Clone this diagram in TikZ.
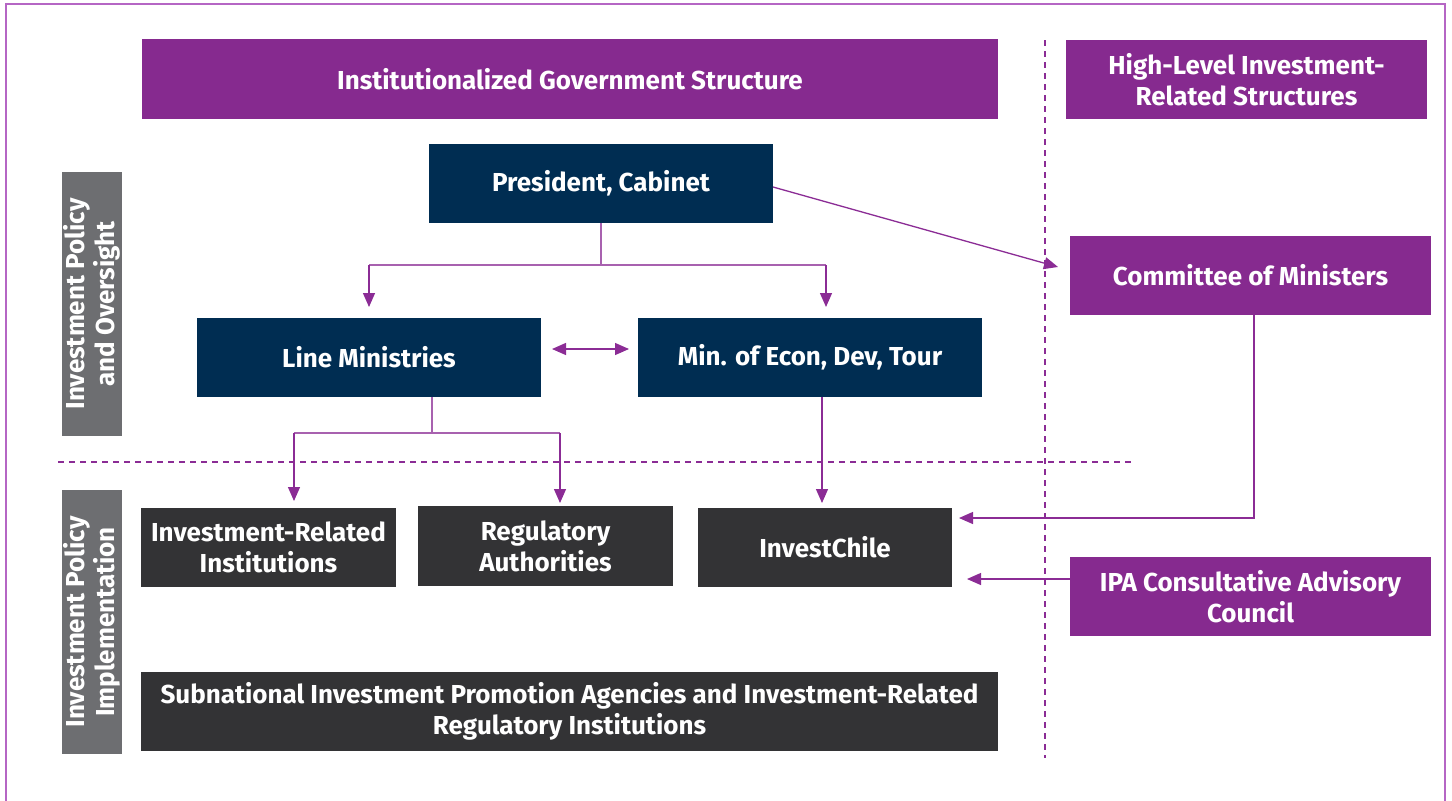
\documentclass[tikz,border=0pt]{standalone}
\usepackage{fontspec}
\setmainfont{Fira Sans}
\usetikzlibrary{arrows.meta}
\definecolor{purp}{HTML}{862A8F}
\definecolor{navy}{HTML}{002D52}
\definecolor{dgray}{HTML}{333335}
\definecolor{lgray}{HTML}{6D6E71}
\definecolor{frame}{HTML}{B566C4}
\definecolor{arrowc}{HTML}{8B2C95}
\tikzset{
  box/.style={inner sep=0pt, text=white, font=\fontsize{26}{31}\selectfont\bfseries, align=center},
  pbox/.style={box, fill=purp},
  nbox/.style={box, fill=navy},
  gbox/.style={box, fill=dgray},
  side/.style={box, fill=lgray},
  sidetext/.style={rotate=90, text=white, font=\fontsize{26}{30}\selectfont\bfseries, align=center},
  tip/.style={Triangle[length=14pt,width=12pt]},
  conn/.style={draw=arrowc, line width=1.3pt, -{Triangle[length=14pt,width=12pt]}},
  dconn/.style={draw=arrowc, line width=1.3pt, {Triangle[length=14pt,width=12pt]}-{Triangle[length=14pt,width=12pt]}},
  plain/.style={draw=arrowc!75, line width=1.3pt},
  sep/.style={draw=arrowc, line width=1.2pt, dash pattern=on 6pt off 5pt}
}
\newcommand{\bx}[6]{\node[#1, minimum width=#4pt-#2pt, minimum height=#5pt-#3pt] (#6) at ({(#2+#4)/2*1pt},{-(#3+#5)/2*1pt})}
\begin{document}
\begin{tikzpicture}[x=1pt,y=-1pt]
\useasboundingbox (0,0) rectangle (1452,801);
\fill[white] (0,0) rectangle (1452,801);
\draw[frame, line width=1.2pt] (6,801) -- (6,4) -- (1445,4) -- (1445,801);
% separators
\draw[sep] (58,462) -- (1135,462);
\draw[sep] (1045,40) -- (1045,758);
% boxes
\bx{pbox}{142}{39}{998}{119}{igs} {Institutionalized Government Structure};
\bx{pbox}{1066}{40}{1427}{119}{hls} {High-Level Investment-\\Related Structures};
\bx{nbox}{429}{144}{773}{223}{pres} {President, Cabinet};
\bx{nbox}{197}{318}{541}{397}{line} {Line Ministries};
\bx{nbox}{638}{318}{982}{397}{econ} {Min. of Econ, Dev, Tour};
\bx{pbox}{1070}{236}{1431}{315}{com} {Committee of Ministers};
\bx{gbox}{141}{508}{396}{587}{iri} {Investment-Related\\Institutions};
\bx{gbox}{418}{506}{673}{586}{reg} {Regulatory\\Authorities};
\bx{gbox}{698}{508}{952}{587}{ic} {InvestChile};
\bx{pbox}{1070}{557}{1431}{636}{ipa} {IPA Consultative Advisory\\Council};
\bx{gbox}{141}{672}{998}{751}{sub} {Subnational Investment Promotion Agencies and Investment-Related\\Regulatory Institutions};
\bx{side}{62}{172}{122}{436}{ipo} {};
\node[sidetext] at (ipo.center) {Investment Policy\\and Oversight};
\bx{side}{62}{490}{122}{754}{ipi} {};
\node[sidetext] at (ipi.center) {Investment Policy\\Implementation};
% connectors
\coordinate (pj) at (601,265);
\draw[plain] (pres.south -| pj) -- (pj);
\draw[plain] (369,265) -- (826,265);
\draw[conn] (369,265) -- (369,307);
\draw[conn] (826,265) -- (826,307);
\draw[dconn] (552,349) -- (629,349);
\coordinate (lj) at (432,433);
\draw[plain] (line.south -| lj) -- (lj);
\draw[plain] (294,433) -- (560,433);
\draw[conn] (294,433) -- (294,501);
\draw[conn] (560,433) -- (560,503);
\draw[conn] (econ.south -| 822,0) -- (822,503);
\draw[conn] (773,187) -- (1058,267);
\coordinate (cb) at (1254,518);
\draw[conn] (com.south -| cb) -- (cb) -- (959,518);
\draw[conn] (ipa.west |- 0,579) -- (967,579);
\end{tikzpicture}
\end{document}
